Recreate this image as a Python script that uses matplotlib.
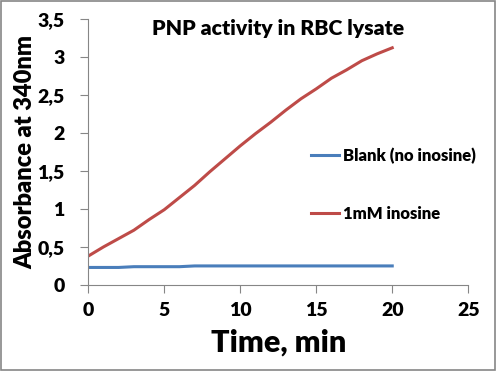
import matplotlib.pyplot as plt
from matplotlib.ticker import FuncFormatter

# readings, one per minute
time_min = [0, 1, 2, 3, 4, 5, 6, 7, 8, 9, 10, 11, 12, 13, 14, 15, 16, 17, 18, 19, 20]
blank = [0.23, 0.23, 0.23, 0.24, 0.24, 0.24, 0.24, 0.25, 0.25, 0.25, 0.25,
         0.25, 0.25, 0.25, 0.25, 0.25, 0.25, 0.25, 0.25, 0.25, 0.25]
inosine = [0.38, 0.50, 0.61, 0.72, 0.86, 0.99, 1.15, 1.31, 1.49, 1.66, 1.83,
           1.99, 2.14, 2.30, 2.45, 2.58, 2.72, 2.83, 2.95, 3.04, 3.12]
labels = ["Blank (no inosine)", "1mM inosine"]

plt.rcParams['font.family'] = ['Lato', 'DejaVu Sans']
plt.rcParams['font.weight'] = 'heavy'

fig = plt.figure(figsize=(4.96, 3.71), dpi=100)
ax = fig.add_axes([0.178, 0.232, 0.766, 0.717])

ax.plot(time_min, blank, color='#4A7EBB', lw=2.2, label=labels[0])
ax.plot(time_min, inosine, color='#BE4B48', lw=2.2, label=labels[1])

ax.set_xlim(0, 25)
ax.set_ylim(0, 3.5)
ax.set_xticks([0, 5, 10, 15, 20, 25])
ax.set_yticks([0, 0.5, 1, 1.5, 2, 2.5, 3, 3.5])
ax.yaxis.set_major_formatter(FuncFormatter(lambda v, p: ('%g' % v).replace('.', ',')))

for s in ['top', 'right']:
    ax.spines[s].set_visible(False)
for s in ['left', 'bottom']:
    ax.spines[s].set_color('#868686')
ax.tick_params(direction='out', length=6, color='#868686', labelsize=14)
ax.tick_params(axis='y', pad=11)
ax.tick_params(axis='x', pad=6)

ax.set_xlabel("Time, min", fontsize=22, fontweight='heavy', labelpad=7)
ax.set_ylabel("Absorbance at 340nm", fontsize=17, fontweight='heavy', labelpad=1)
ax.set_title("PNP activity in RBC lysate", fontsize=15.3, fontweight='heavy', y=0.91)

ax.legend(frameon=False, loc='center left', bbox_to_anchor=(0.586, 0.376),
          borderpad=0, borderaxespad=0,
          handlelength=1.7, handletextpad=0.2, labelspacing=2.5,
          prop={'size': 12, 'weight': 'heavy'})

fig.patches.append(plt.Rectangle((0.002, 0.003), 0.995, 0.994, transform=fig.transFigure,
                                 fill=False, edgecolor='#868686', lw=1.2))

fig.savefig("out.png", dpi=100)
